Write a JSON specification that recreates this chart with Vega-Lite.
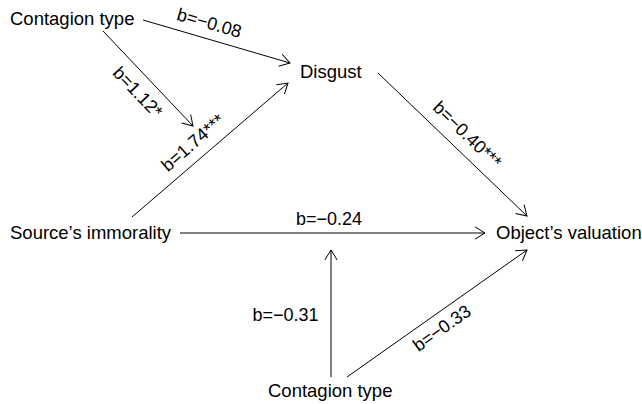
{
  "$schema": "https://vega.github.io/schema/vega-lite/v6.json",
  "width": 642,
  "height": 404,
  "autosize": {"type": "fit", "contains": "padding"},
  "padding": 0,
  "background": "white",
  "config": {"view": {"stroke": null}},
  "datasets": {
    "edges": [
      {"x1": 143, "y1": 20, "x2": 290, "y2": 63, "angle": 16.3},
      {"x1": 103, "y1": 31, "x2": 193, "y2": 126, "angle": 46.5},
      {"x1": 132, "y1": 217, "x2": 288, "y2": 83, "angle": -40.7},
      {"x1": 378, "y1": 73, "x2": 527, "y2": 216, "angle": 43.8},
      {"x1": 180, "y1": 233, "x2": 485, "y2": 233, "angle": 0},
      {"x1": 331, "y1": 377, "x2": 331, "y2": 250, "angle": -90},
      {"x1": 347, "y1": 377, "x2": 527, "y2": 250, "angle": -35.2}
    ],
    "nodes": [
      {"label": "Contagion type", "x": 10, "y": 25},
      {"label": "Disgust", "x": 300, "y": 78},
      {"label": "Source’s immorality", "x": 10, "y": 239},
      {"label": "Object’s valuation", "x": 496, "y": 239},
      {"label": "Contagion type", "x": 268, "y": 397}
    ],
    "labels": [
      {"label": "b=−0.08", "x": 209, "y": 24, "angle": 16},
      {"label": "b=1.12*", "x": 137, "y": 93, "angle": 46.5},
      {"label": "b=1.74***", "x": 193.5, "y": 143.5, "angle": -41},
      {"label": "b=−0.40***", "x": 466.5, "y": 135.5, "angle": 44},
      {"label": "b=−0.24", "x": 329, "y": 219.6, "angle": 0},
      {"label": "b=−0.31", "x": 285.5, "y": 316.3, "angle": 0},
      {"label": "b=−0.33", "x": 442.5, "y": 329, "angle": -35.6}
    ]
  },
  "layer": [
    {
      "data": {"name": "edges"},
      "mark": {"type": "rule", "color": "black", "strokeWidth": 1},
      "encoding": {
        "x": {"field": "x1", "type": "quantitative", "scale": {"domain": [0, 642]}, "axis": null},
        "y": {"field": "y1", "type": "quantitative", "scale": {"domain": [0, 404], "reverse": true}, "axis": null},
        "x2": {"field": "x2"},
        "y2": {"field": "y2"}
      }
    },
    {
      "data": {"name": "edges"},
      "mark": {"type": "point", "shape": "M-1,-0.62L0,0L-1,0.62", "filled": false, "color": "black", "strokeWidth": 1, "size": 400, "opacity": 1},
      "encoding": {
        "x": {"field": "x2", "type": "quantitative", "scale": {"domain": [0, 642]}, "axis": null},
        "y": {"field": "y2", "type": "quantitative", "scale": {"domain": [0, 404], "reverse": true}, "axis": null},
        "angle": {"field": "angle", "type": "quantitative", "scale": null}
      }
    },
    {
      "data": {"name": "nodes"},
      "mark": {"type": "text", "align": "left", "baseline": "alphabetic", "font": "Liberation Sans", "fontSize": 18.5, "color": "black"},
      "encoding": {
        "x": {"field": "x", "type": "quantitative", "scale": {"domain": [0, 642]}, "axis": null},
        "y": {"field": "y", "type": "quantitative", "scale": {"domain": [0, 404], "reverse": true}, "axis": null},
        "text": {"field": "label"}
      }
    },
    {
      "data": {"name": "labels"},
      "mark": {"type": "text", "align": "center", "baseline": "middle", "font": "Liberation Sans", "fontSize": 18, "color": "black"},
      "encoding": {
        "x": {"field": "x", "type": "quantitative", "scale": {"domain": [0, 642]}, "axis": null},
        "y": {"field": "y", "type": "quantitative", "scale": {"domain": [0, 404], "reverse": true}, "axis": null},
        "angle": {"field": "angle", "type": "quantitative", "scale": null},
        "text": {"field": "label"}
      }
    }
  ]
}
